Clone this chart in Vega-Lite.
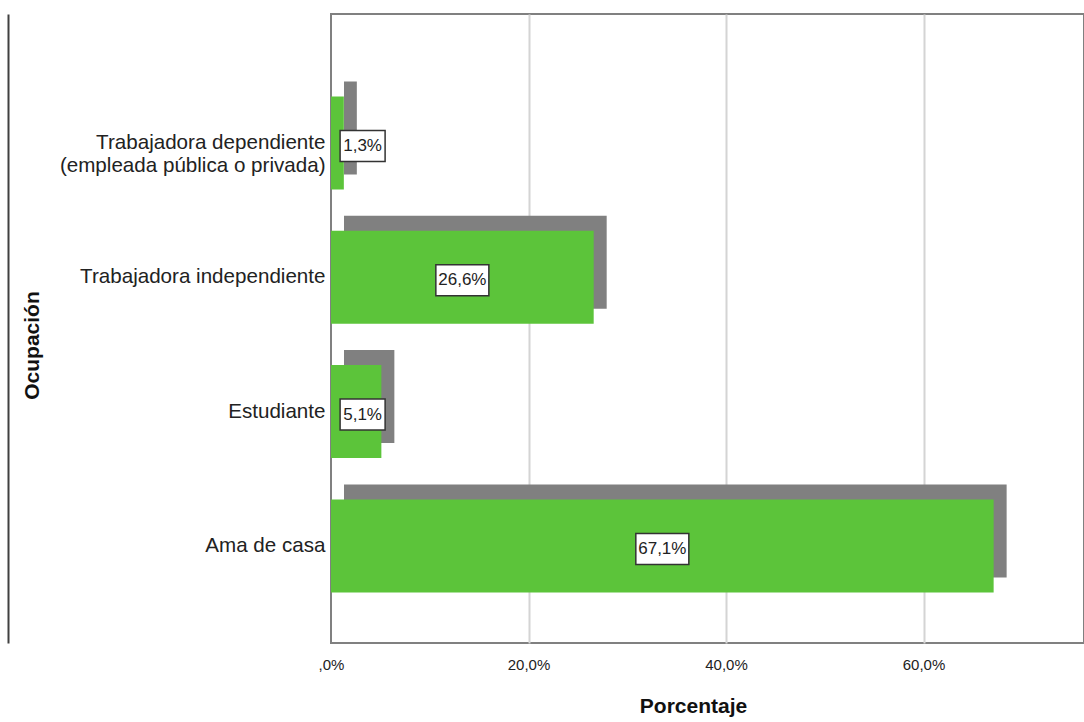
{
  "$schema": "https://vega.github.io/schema/vega-lite/v6.json",
  "width": 753,
  "height": 629,
  "autosize": "none",
  "padding": {"left": 331, "top": 14, "right": 0, "bottom": 79},
  "background": "white",
  "config": {
    "view": {"stroke": "#808080", "strokeWidth": 2},
    "font": "Liberation Sans"
  },
  "data": {
    "values": [
      {"ocupacion": "Trabajadora dependiente (empleada pública o privada)", "porcentaje": 1.3, "label": "1,3%"},
      {"ocupacion": "Trabajadora independiente", "porcentaje": 26.6, "label": "26,6%"},
      {"ocupacion": "Estudiante", "porcentaje": 5.1, "label": "5,1%"},
      {"ocupacion": "Ama de casa", "porcentaje": 67.1, "label": "67,1%"}
    ]
  },
  "transform": [
    {"calculate": "max(datum.porcentaje / 2, 3.2)", "as": "lx"},
    {"calculate": "datum.lx - (8 * length(datum.label) + 13) / 2 / 9.875", "as": "lx1"},
    {"calculate": "datum.lx + (8 * length(datum.label) + 13) / 2 / 9.875", "as": "lx2"}
  ],
  "resolve": {"scale": {"y": "independent"}, "axis": {"y": "independent"}},
  "layer": [
    {
      "mark": {"type": "bar", "color": "#808080", "xOffset": 13, "x2Offset": 13, "yOffset": -15, "y2Offset": -15},
      "encoding": {
        "y": {
          "field": "ocupacion",
          "type": "nominal",
          "sort": null,
          "scale": {"type": "band", "paddingInner": 0.3075, "paddingOuter": 0.4955, "align": 0.62},
          "title": "Ocupación",
          "axis": {
            "labelExpr": "indexof(datum.label, ' (') > 0 ? [slice(datum.label, 0, indexof(datum.label, ' (')), slice(datum.label, indexof(datum.label, ' (') + 1)] : datum.label",
            "labelFont": "Liberation Sans",
            "labelFontSize": 20.6,
            "labelColor": "#222222",
            "labelLineHeight": 23,
            "labelLimit": 400,
            "labelPadding": 6,
            "ticks": false,
            "domain": false,
            "titleFont": "Liberation Sans",
            "titleFontWeight": "bold",
            "titleFontSize": 21,
            "titleColor": "#111111",
            "titleAngle": -90,
            "titleX": -299,
            "titleY": 331,
            "titleAlign": "center",
            "titleBaseline": "middle"
          }
        },
        "x": {
          "field": "porcentaje",
          "type": "quantitative",
          "scale": {"domain": [0, 76.25], "nice": false},
          "title": "Porcentaje",
          "axis": {
            "values": [0, 20, 40, 60],
            "labelExpr": "datum.value == 0 ? ',0%' : replace(format(datum.value, '.1f'), '.', ',') + '%'",
            "labelFont": "Liberation Sans",
            "labelFontSize": 15,
            "labelColor": "#222222",
            "labelPadding": 14,
            "labelFlush": false,
            "ticks": false,
            "domain": false,
            "grid": true,
            "gridColor": {"condition": {"test": "datum.value === 0", "value": "transparent"}, "value": "#d4d4d4"},
            "gridWidth": 2,
            "titleFont": "Liberation Sans",
            "titleFontWeight": "bold",
            "titleFontSize": 21,
            "titleColor": "#111111",
            "titleX": 362,
            "titleY": 63,
            "titleAlign": "center",
            "titleBaseline": "middle"
          }
        }
      }
    },
    {
      "mark": {"type": "bar", "color": "#5cc43a"},
      "encoding": {
        "y": {
          "field": "ocupacion",
          "type": "nominal",
          "sort": null,
          "scale": {"type": "band", "paddingInner": 0.3075, "paddingOuter": 0.4955, "align": 0.62},
          "axis": null
        },
        "x": {"field": "porcentaje", "type": "quantitative"}
      }
    },
    {
      "mark": {"type": "bar", "fill": "white", "stroke": "#333333", "strokeWidth": 1.5, "height": 31, "yOffset": 3},
      "encoding": {
        "y": {
          "field": "ocupacion",
          "type": "nominal",
          "sort": null,
          "scale": {"type": "band", "paddingInner": 0.3075, "paddingOuter": 0.4955, "align": 0.62},
          "axis": {
            "orient": "left",
            "offset": 323,
            "labels": false,
            "ticks": false,
            "grid": false,
            "title": null,
            "domain": true,
            "domainColor": "#404040",
            "domainWidth": 2
          }
        },
        "x": {"field": "lx1", "type": "quantitative"},
        "x2": {"field": "lx2"}
      }
    },
    {
      "mark": {"type": "text", "font": "Liberation Sans", "fontSize": 17, "color": "#222222", "dy": 3},
      "encoding": {
        "y": {
          "field": "ocupacion",
          "type": "nominal",
          "sort": null,
          "scale": {"type": "band", "paddingInner": 0.3075, "paddingOuter": 0.4955, "align": 0.62},
          "axis": null
        },
        "x": {"field": "lx", "type": "quantitative"},
        "text": {"field": "label"}
      }
    }
  ]
}
